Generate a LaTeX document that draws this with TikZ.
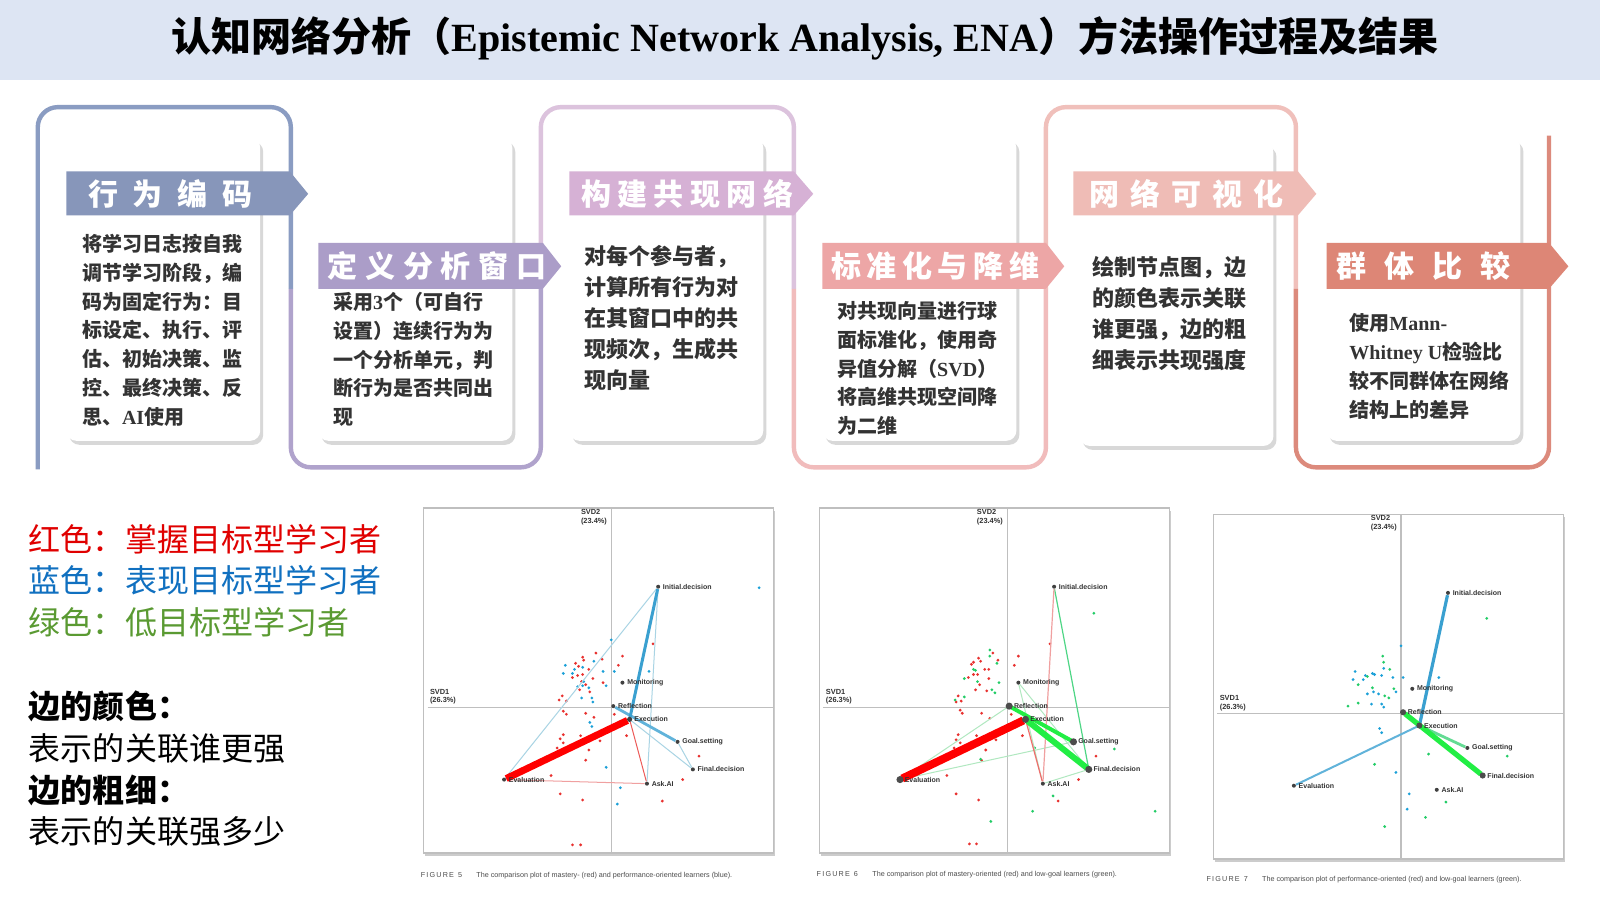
\documentclass[tikz,border=0pt]{standalone}
\usepackage{fontspec}
\setmainfont{Noto Sans CJK SC}
\newfontfamily\lat{Liberation Serif}
\newfontfamily\lsans{Liberation Sans}
\usetikzlibrary{shadows}
\definecolor{tbg}{HTML}{DDE5F3}
\definecolor{ca}{HTML}{8A9CC2}\definecolor{ta}{HTML}{8796BA}
\definecolor{cb}{HTML}{B0A3CC}\definecolor{tb}{HTML}{AB9DC8}
\definecolor{cc}{HTML}{DCC3DD}\definecolor{tc}{HTML}{D6B1D5}
\definecolor{cd}{HTML}{F1BCBC}\definecolor{td}{HTML}{EDA6A6}
\definecolor{ce}{HTML}{F0C0BB}\definecolor{te}{HTML}{EFBCB6}
\definecolor{cf}{HTML}{DC8A7C}\definecolor{tf}{HTML}{DD8676}
\definecolor{txt}{HTML}{333333}
\definecolor{lgr}{HTML}{E00000}\definecolor{lgb}{HTML}{1070C0}\definecolor{lgg}{HTML}{5A9A32}
\definecolor{pr}{HTML}{E8312F}\definecolor{pb}{HTML}{1BA0D8}\definecolor{pg}{HTML}{22CC66}
\definecolor{lb}{HTML}{A9D4E4}\definecolor{mb}{HTML}{3AA0D0}\definecolor{bg}{HTML}{22EE44}\definecolor{lg}{HTML}{B0E8C0}
\definecolor{lr}{HTML}{F0A0A0}
\newcommand\spreadbox[2]{\makebox[#1]{#2}}
\begin{document}
\begin{tikzpicture}[x=0.51pt,y=-0.51pt,
  pframe/.style={line width=2.2pt,rounded corners=10pt},
  card/.style={fill=white,rounded corners=5pt,drop shadow={shadow xshift=1.5pt,shadow yshift=-2pt,opacity=0.3}},
  tabtxt/.style={text=white,font=\bfseries\fontsize{15}{15}\selectfont,anchor=west,inner sep=0pt},
  body/.style={text=txt,font=\bfseries\fontsize{10}{14.4}\selectfont,anchor=north west,align=left,inner sep=0pt},
  bodyb/.style={body,font=\bfseries\fontsize{11}{15.5}\selectfont},
  leg/.style={anchor=west,inner sep=0pt,font=\fontsize{16}{16}\selectfont},
  pf/.style={draw=black!25,line width=0.7pt,fill=white,drop shadow={shadow xshift=1pt,shadow yshift=-1.5pt,opacity=0.4}},
  nd/.style={circle,fill=black!75,inner sep=0pt,minimum size=2pt},
  lab/.style={anchor=west,inner sep=1pt,font=\lsans\bfseries\fontsize{3.5}{4}\selectfont,text=black!80},
  axl/.style={anchor=north west,inner sep=0pt,align=left,font=\lsans\bfseries\fontsize{3.7}{4.3}\selectfont,text=black!80},
  figcap/.style={anchor=west,inner sep=0pt,font=\lsans\fontsize{3.6}{4}\selectfont,text=black!70}]
\useasboundingbox (0,0) rectangle (1568,888.2);
\fill[white] (0,0) rectangle (1568,888.2);
\fill[tbg] (0,0) rectangle (1568,78);
\node[font=\bfseries\fontsize{20}{20}\selectfont] (title) at (789,38) {认知网络分析（{\lat Epistemic Network Analysis, ENA}）方法操作过程及结果};
% frames
\draw[pframe,ca] (37,460) -- (37,105) -- (285,105) -- (285,283);
\draw[pframe,cb] (285,283) -- (285,458) -- (530,458) -- (530,283);
\draw[pframe,cc] (530,283) -- (530,105) -- (778,105) -- (778,283);
\draw[pframe,cd] (778,283) -- (778,458) -- (1025,458) -- (1025,283);
\draw[pframe,ce] (1025,283) -- (1025,105) -- (1270,105) -- (1270,283);
\draw[pframe,cf] (1270,283) -- (1270,458) -- (1518,458) -- (1518,133);
% cards
\fill[card] (65,135) rectangle (255,432);
\fill[card] (312,135) rectangle (502,432);
\fill[card] (558,135) rectangle (748,432);
\fill[card] (806,135) rectangle (996,432);
\fill[card] (1058,140) rectangle (1248,437);
\fill[card] (1300,135) rectangle (1490,432);
% tabs
\fill[ta] (65,168) -- (284,168) -- (302,190) -- (284,211) -- (65,211) -- cycle;
\fill[tb] (312,238) -- (532,238) -- (550,261) -- (532,283) -- (312,283) -- cycle;
\fill[tc] (558,168) -- (778,168) -- (797,190) -- (778,211) -- (558,211) -- cycle;
\fill[td] (806,238) -- (1025,238) -- (1043,261) -- (1025,283) -- (806,283) -- cycle;
\fill[te] (1052,168) -- (1272,168) -- (1290,190) -- (1272,211) -- (1052,211) -- cycle;
\fill[tf] (1300,238) -- (1518,238) -- (1537,261) -- (1518,283) -- (1300,283) -- cycle;
\node[tabtxt] (t1) at (86,190) {\spreadbox{82pt}{行\hfill 为\hfill 编\hfill 码}};
\node[tabtxt] (t2) at (321,261) {\spreadbox{109pt}{定\hfill 义\hfill 分\hfill 析\hfill 窗\hfill 口}};
\node[tabtxt] (t3) at (569,190) {\spreadbox{106pt}{构\hfill 建\hfill 共\hfill 现\hfill 网\hfill 络}};
\node[tabtxt] (t4) at (814,261) {\spreadbox{104pt}{标\hfill 准\hfill 化\hfill 与\hfill 降\hfill 维}};
\node[tabtxt] (t5) at (1067,190) {\spreadbox{97pt}{网\hfill 络\hfill 可\hfill 视\hfill 化}};
\node[tabtxt] (t6) at (1309,261) {\spreadbox{87pt}{群\hfill 体\hfill 比\hfill 较}};
% bodies
\node[body] (b1) at (80,229) {将学习日志按自我\\调节学习阶段，编\\码为固定行为：目\\标设定、执行、评\\估、初始决策、监\\控、最终决策、反\\思、{\lat AI}使用};
\node[body] (b2) at (326,286) {采用{\lat 3}个（可自行\\设置）连续行为为\\一个分析单元，判\\断行为是否共同出\\现};
\node[bodyb] (b3) at (572,240) {对每个参与者，\\计算所有行为对\\在其窗口中的共\\现频次，生成共\\现向量};
\node[body] (b4) at (820,295) {对共现向量进行球\\面标准化，使用奇\\异值分解（{\lat SVD}）\\将高维共现空间降\\为二维};
\node[bodyb] (b5) at (1070,251) {绘制节点图，边\\的颜色表示关联\\谁更强，边的粗\\细表示共现强度};
\node[body] (b6) at (1322,307) {使用{\lat Mann-}\\{\lat Whitney U}检验比\\较不同群体在网络\\结构上的差异};
% legend
\node[leg,text=lgr] (l1) at (28,528) {红色：掌握目标型学习者};
\node[leg,text=lgb] (l2) at (28,569) {蓝色：表现目标型学习者};
\node[leg,text=lgg] (l3) at (28,610) {绿色：低目标型学习者};
\node[leg,font=\bfseries\fontsize{16}{16}\selectfont] (l4) at (28,692) {边的颜色：};
\node[leg] (l5) at (28,733) {表示的关联谁更强};
\node[leg,font=\bfseries\fontsize{16}{16}\selectfont] (l6) at (28,775) {边的粗细：};
\node[leg] (l7) at (28,815) {表示的关联强多少};
\newcommand\enabase[1]{%
  \fill[pf] (-184,-195) rectangle (159,143);
  \draw[black!25,line width=0.6pt] (-180,0) -- (159,0);
  \draw[black!25,line width=0.6pt] (0,-195) -- (0,143);
  \node[axl] at (-30,-194) {SVD2\\(23.4\%)};
  \node[axl] at (-178,-18) {SVD1\\(26.3\%)};
  \node[nd] (#1ini) at (46,-118) {};
  \node[nd] (#1mon) at (11,-24) {};
  \node[nd] (#1ref) at (2,-1) {};
  \node[nd] (#1exe) at (18,12) {};
  \node[nd] (#1goa) at (65,34) {};
  \node[nd] (#1fin) at (80,61) {};
  \node[nd] (#1ask) at (35,75) {};
  \node[nd] (#1eva) at (-105,71) {};}
\newcommand\enalabels[1]{%
  \node[lab] at (#1ini.east) {Initial.decision};
  \node[lab] at (#1mon.east) {Monitoring};
  \node[lab] at (#1ref.east) {Reflection};
  \node[lab] at (#1exe.east) {Execution};
  \node[lab] at (#1goa.east) {Goal.setting};
  \node[lab] at (#1fin.east) {Final.decision};
  \node[lab] at (#1ask.east) {Ask.AI};
  \node[lab] at (#1eva.east) {Evaluation};}
% ---------- plot 1
\begin{scope}[shift={(599,693)}]
\enabase{a}
\foreach \u/\v in {41/-62,11/-50,7/-41,-9/-47,-15/-53,-28/-49,-35/-43,-27/-46,-32/-40,-22/-37,-18/-28,-28/-32,-38/-29,-33/-31,-29/-25,-25/-22,-8/-24,-31/-17,-21/-15,-48/-11,-51/-7,-44/-6,-47/4,-44/7,-25/6,-17/10,3/7,15/28,-11/33,-30/28,-47/27,-50/31,-47/35,-53/40,-22/42,-25/52,-59/67,-50/85,-28/91,-38/135,-30/135,50/92,70/71,86/48}
  \fill[pr] (\u,\v) circle (1.5);
\foreach \u/\v in {0/-66,145/-117,37/-35,3/-35,-8/-35,-17/-45,-28/-39,-45/-41,-47/-33,-36/-37,-38/-33,-27/-25,-28/-21,-33/-20,-22/-19,-5/-21,-29/-9,-19/-9,-18/-5,-21/15,-19/19,-5/59,9/79,6/95}
  \fill[pb] (\u,\v) circle (1.5);
\draw[lb,line width=0.5pt] (aini) -- (aeva);
\draw[lb,line width=0.5pt] (aini) -- (aask);
\draw[lb,line width=0.5pt] (aexe) -- (afin);
\draw[lb,line width=0.5pt] (agoa) -- (afin);
\draw[lr,line width=0.5pt] (aeva) -- (aask);
\draw[pr!80,line width=0.5pt] (aexe) -- (aask);
\draw[mb!80,line width=1.4pt] (aref) -- (agoa);
\draw[mb,line width=1.5pt] (aexe) -- (aini);
\draw[red,line width=3.5pt] (aeva) -- (aexe);
\fill[black!75] (aexe) circle (2.5);
\enalabels{a}
\end{scope}
\node[figcap] (cap1) at (412,858) {F\,I\,G\,U\,R\,E\ \ 5\qquad The comparison plot of mastery- (red) and performance-oriented learners (blue).};
% ---------- plot 2
\begin{scope}[shift={(987,693)}]
\enabase{b}
\foreach \u/\v in {42/-62,11/-50,7/-41,-9/-46,-14/-53,-28/-48,-35/-42,-33/-44,-26/-45,-22/-37,-18/-37,-29/-32,-33/-32,-38/-29,-18/-28,-27/-22,-31/-17,-20/-16,-48/-11,-45/-6,-50/-5,-46/3,-44/6,-25/6,-17/11,4/7,15/28,-11/32,-30/28,-48/27,-50/32,-46/35,-52/40,-21/42,-25/52,-59/67,-50/85,-28/91,-37/134,-30/134,50/92,70/71,87/48}
  \fill[pr] (\u,\v) circle (1.5);
\foreach \u/\v in {85/-92,-17/-56,-17/-50,-10/-43,-33/-37,-31/-36,-42/-28,-29/-25,-8/-24,-15/-17,-12/-14,-42/-10,-51/-7,27/40,-26/51,105/41,45/87,25/102,-16/112,145/102}
  \fill[pg] (\u,\v) circle (1.5);
\draw[lg,line width=0.5pt] (beva) -- (bref);
\draw[lg,line width=0.5pt] (beva) -- (bgoa);
\draw[lg,line width=0.5pt] (bmon) -- (bfin);
\draw[lg,line width=0.5pt] (bmon) -- (bask);
\draw[lg,line width=0.5pt] (bask) -- (bfin);
\draw[pg!80,line width=0.6pt] (bini) -- (bfin);
\draw[lr,line width=0.6pt] (bini) -- (bask);
\draw[pr!70,line width=0.6pt] (bexe) -- (bask);
\draw[bg,line width=2pt] (bref) -- (bgoa);
\draw[red,line width=4pt] (beva) -- (bexe);
\draw[bg,line width=3pt] (bexe) -- (bfin);
\foreach \n in {ref,exe,goa,fin,eva} \fill[black!70] (b\n) circle (3.5);
\enalabels{b}
\end{scope}
\node[figcap] (cap2) at (800,857) {F\,I\,G\,U\,R\,E\ \ 6\qquad The comparison plot of mastery-oriented (red) and low-goal learners (green).};
% ---------- plot 3
\begin{scope}[shift={(1373,699)}]
\enabase{c}
\foreach \u/\v in {0/-66,-45/-41,-47/-33,-35/-37,-28/-39,-26/-38,-19/-37,-17/-44,-8/-35,2/-35,37/-35,-37/-33,-33/-19,-27/-21,-22/-19,-5/-21,-29/-9,-19/-9,-17/-6,-21/15,-19/19,-5/58,8/79,6/94}
  \fill[pb] (\u,\v) circle (1.5);
\foreach \u/\v in {84/-93,-18/-56,-17/-50,-11/-43,-33/-36,-42/-28,-28/-25,-7/-24,-16/-17,-12/-15,-42/-10,-52/-7,27/40,-26/50,104/42,44/87,24/102,-16/111}
  \fill[pg] (\u,\v) circle (1.5);
\draw[mb!80,line width=1pt] (cexe) -- (ceva);
\draw[pg!70,line width=1.4pt] (cexe) -- (cgoa);
\draw[mb,line width=1.6pt] (cexe) -- (cini);
\draw[bg,line width=2.6pt] (cref) -- (cfin);
\foreach \n in {ref,exe,fin} \fill[black!70] (c\n) circle (3);
\enalabels{c}
\end{scope}
\node[figcap] (cap3) at (1182,862) {F\,I\,G\,U\,R\,E\ \ 7\qquad The comparison plot of performance-oriented (red) and low-goal learners (green).};
\end{tikzpicture}
\end{document}
